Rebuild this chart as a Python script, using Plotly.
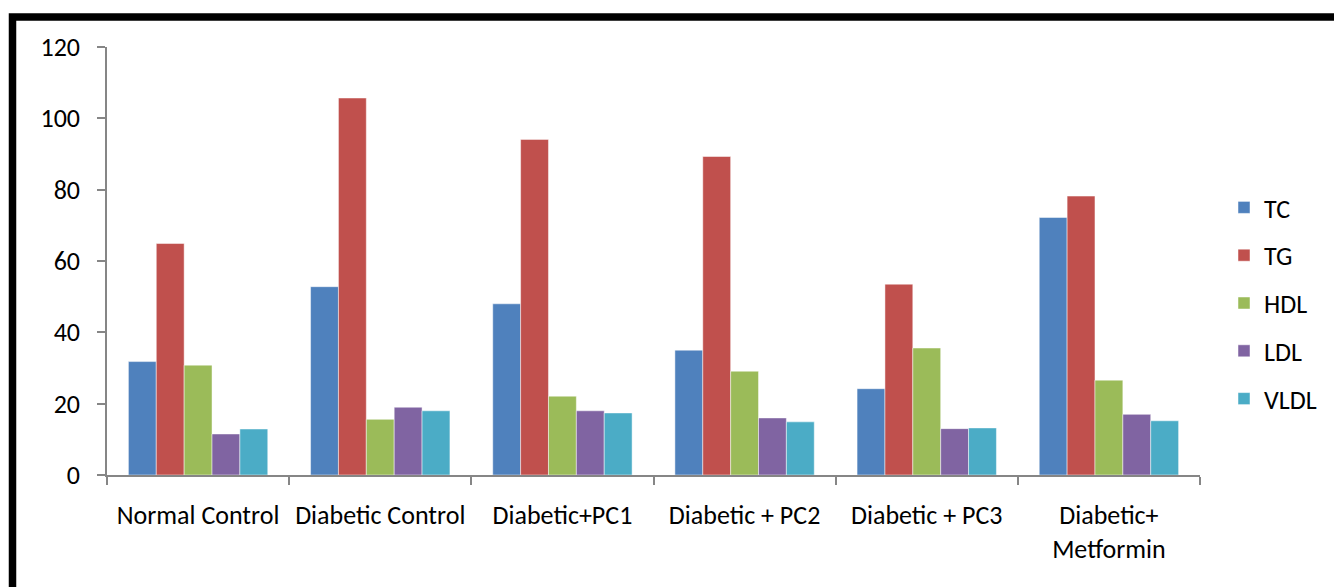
import plotly.graph_objects as go

# Lipid profile by treatment group (mg/dL)
groups = ["Normal Control", "Diabetic Control", "Diabetic+PC1",
          "Diabetic + PC2", "Diabetic + PC3", "Diabetic+<br>Metformin"]
tc = [31.8, 52.8, 48.0, 35.0, 24.2, 72.2]
tg = [64.9, 105.7, 94.1, 89.3, 53.5, 78.2]
hdl = [30.8, 15.6, 22.1, 29.1, 35.6, 26.6]
ldl = [11.5, 19.0, 18.0, 16.0, 13.0, 17.0]
vldl = [12.9, 18.0, 17.4, 14.9, 13.2, 15.2]

series = [("TC", tc, "#4F81BD"), ("TG", tg, "#C0504D"), ("HDL", hdl, "#9BBB59"),
          ("LDL", ldl, "#8064A2"), ("VLDL", vldl, "#4BACC6")]

W, H = 1334, 587
L, R, T, B = 107, 134, 47, 112
pw, ph = W - L - R, H - T - B

fig = go.Figure()
for i, (name, vals, col) in enumerate(series):
    fig.add_trace(go.Bar(x=groups, y=vals, name=name, legendgroup=name,
                         marker=dict(color=col, line=dict(color="rgba(255,255,255,0.6)", width=0.8))))

font = "Carlito, Lato, sans-serif"
axis_col = "#868686"

def px_x(p):
    return (p - L) / pw

def px_y(p):
    return (H - B - p) / ph

fig.update_layout(
    width=W, height=H,
    margin=dict(l=L, r=R, t=T, b=B),
    paper_bgcolor="white", plot_bgcolor="white",
    barmode="group", bargap=0.235, bargroupgap=0,
    font=dict(family=font, size=26, color="black"),
    legend=dict(x=px_x(1224), xanchor="left", y=px_y(184), yanchor="top",
                traceorder="grouped", tracegroupgap=11,
                font=dict(family=font, size=26, color="black"),
                bgcolor="rgba(0,0,0,0)"),
    xaxis=dict(showline=True, linecolor=axis_col, linewidth=1.5,
               ticks="outside", ticklen=8, tickcolor=axis_col, tickwidth=1.5,
               tickson="boundaries", showgrid=False, ticklabelstandoff=16),
    yaxis=dict(range=[0, 120], dtick=20, showline=True, linecolor=axis_col, linewidth=1.5,
               ticks="outside", ticklen=8, tickcolor=axis_col, tickwidth=1.5,
               showgrid=False, zeroline=False, ticklabelstandoff=12),
    shapes=[dict(type="rect", xref="paper", yref="paper",
                 x0=px_x(12.5), x1=px_x(1400), y0=px_y(17), y1=px_y(700),
                 line=dict(color="black", width=7.5), fillcolor="rgba(0,0,0,0)")],
)

fig.write_html("out.html")
